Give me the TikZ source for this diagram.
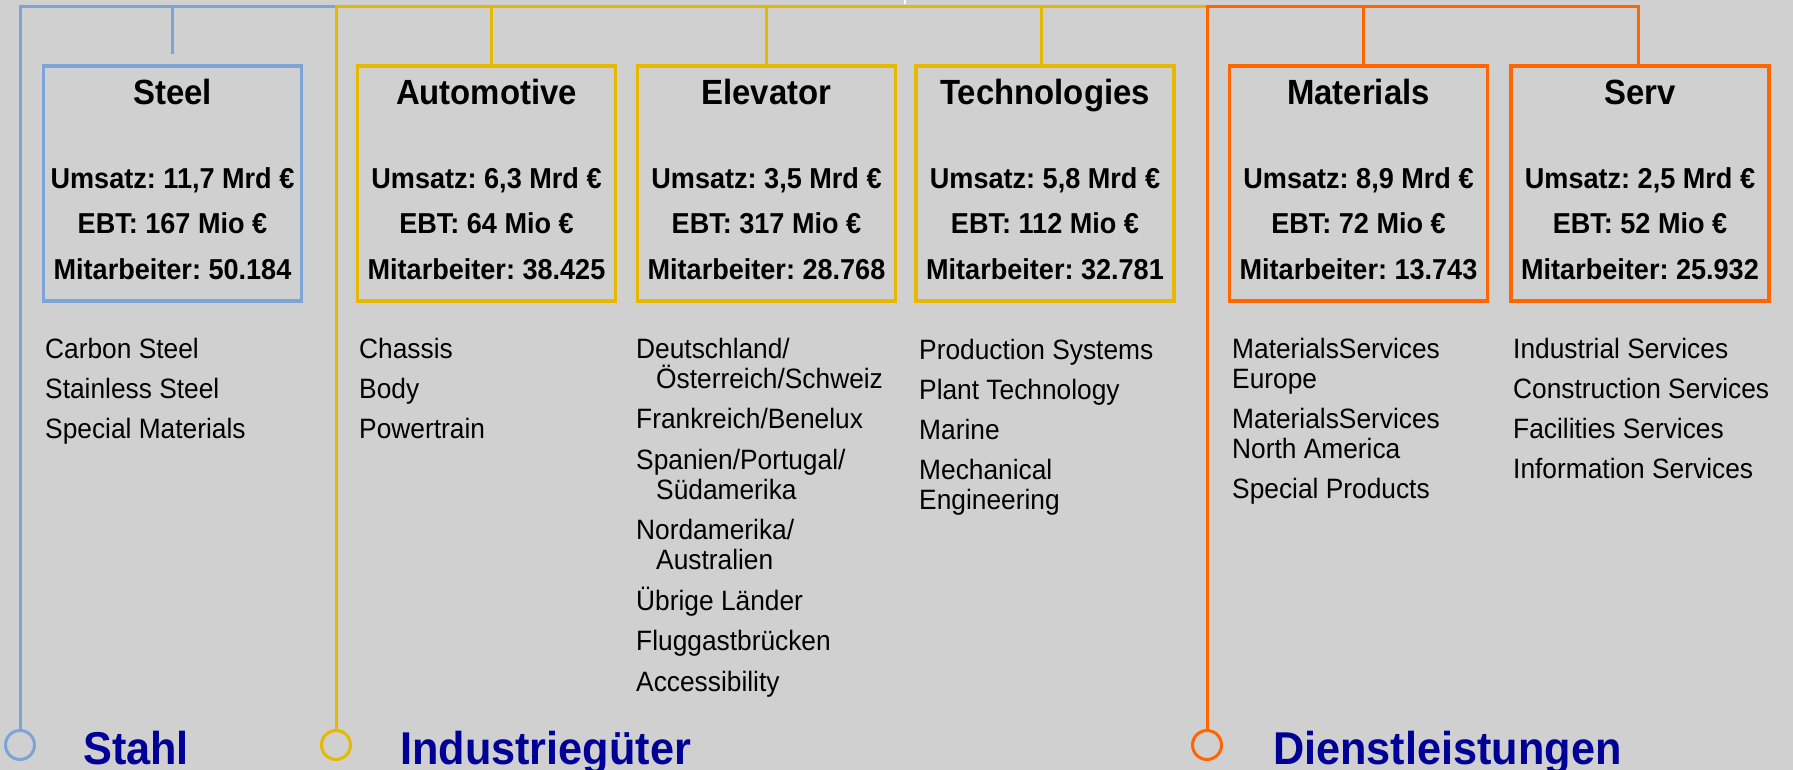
\documentclass[tikz,border=0pt]{standalone}
\usepackage{fontspec}
\setmainfont[FakeStretch=0.94]{Liberation Sans}
\usetikzlibrary{positioning,calc}
\definecolor{bgGray}{RGB}{208,208,208}
\definecolor{stahlBlue}{RGB}{125,164,214}
\definecolor{indGelb}{RGB}{230,184,0}
\definecolor{dlOrange}{RGB}{255,102,0}
\definecolor{labelBlue}{RGB}{0,0,150}

\begin{document}
\begin{tikzpicture}[x=1pt,y=-1pt,
    segbox/.style={draw=#1, line width=3.5pt, minimum width=258pt, minimum height=235pt, inner sep=0pt},
    trunk/.style={draw=#1, line width=3pt},
    ringdot/.style={circle, draw=#1, line width=3pt, minimum size=29pt, inner sep=0pt},
    boxtitle/.style={anchor=base, inner sep=0pt, font=\fontsize{35}{40}\selectfont\bfseries},
    figures/.style={anchor=base, align=center, inner sep=0pt, font=\fontsize{28.8}{45.5}\selectfont\bfseries\frenchspacing},
    sublist/.style={anchor=base west, align=left, inner sep=0pt, font=\fontsize{28}{30}\selectfont},
    grouplabel/.style={anchor=base west, inner sep=0pt, text=labelBlue, font=\fontsize{46}{50}\selectfont\bfseries}]
       \useasboundingbox[fill=bgGray] (0,0) rectangle (1793,770);
       \draw[white, line width=1.5pt] (905,0) -- (905,4);
       % the three groups
       \coordinate (stahlTop) at (20,7);
       \coordinate (indTop) at (336,7);
       \coordinate (dlTop) at (1207,7);
       \coordinate (dlEnd) at (1638,7);
       \node[ringdot=stahlBlue] (stahlDot) at (20,745) {};
       \node[ringdot=indGelb] (indDot) at (336,745) {};
       \node[ringdot=dlOrange] (dlDot) at (1207,745) {};
       \node[grouplabel] (stahl) at (83,764) {Stahl};
       \node[grouplabel] (ind) at (400,764) {Industriegüter};
       \node[grouplabel] (dl) at (1273,764) {Dienstleistungen};
       % segments
       \node[segbox=stahlBlue] (steel) at (172.5,183.5) {};
       \node[segbox=indGelb] (auto) at (486.5,183.5) {};
       \node[segbox=indGelb] (elev) at (766.5,183.5) {};
       \node[segbox=indGelb] (tech) at (1045,183.5) {};
       \node[segbox=dlOrange] (mat) at (1358.5,183.5) {};
       \node[segbox=dlOrange] (serv) at (1640,183.5) {};
       \coordinate (autoTick) at ($(auto.north)+(4.5,0)$);
       \coordinate (techTick) at ($(tech.north)+(-4,0)$);
       \coordinate (matTick) at ($(mat.north)+(5,0)$);
       \draw[trunk=stahlBlue] (stahlDot) -- (stahlTop) -- (indTop);
       \draw[trunk=stahlBlue] (steel.north |- stahlTop) -- ([yshift=10pt]steel.north);
       \draw[trunk=indGelb] (indDot) -- (indTop) -- (dlTop);
       \draw[trunk=indGelb] (autoTick |- indTop) -- (autoTick);
       \draw[trunk=indGelb] (elev.north |- indTop) -- (elev.north);
       \draw[trunk=indGelb] (techTick |- indTop) -- (techTick);
       \draw[trunk=dlOrange] (dlDot) -- (dlTop) -- (dlEnd) -- (dlEnd |- serv.north);
       \draw[trunk=dlOrange] (matTick |- dlTop) -- (matTick);
       % box texts (base = last line)
       \node[boxtitle] (steelT) at (172.5,105) {Steel};
       \node[boxtitle] (autoT) at (486.5,105) {Automotive};
       \node[boxtitle] (elevT) at (766.5,105) {Elevator};
       \node[boxtitle] (techT) at (1045,105) {Technologies};
       \node[boxtitle] (matT) at (1358.5,105) {Materials};
       \node[boxtitle] (servT) at (1640,105) {Serv};
       \node[figures] (steelF) at (172.5,279) {Umsatz: 11,7 Mrd €\\EBT: 167 Mio €\\Mitarbeiter: 50.184};
       \node[figures] (autoF) at (486.5,279) {Umsatz: 6,3 Mrd €\\EBT: 64 Mio €\\Mitarbeiter: 38.425};
       \node[figures] (elevF) at (766.5,279) {Umsatz: 3,5 Mrd €\\EBT: 317 Mio €\\Mitarbeiter: 28.768};
       \node[figures] (techF) at (1045,279) {Umsatz: 5,8 Mrd €\\EBT: 112 Mio €\\Mitarbeiter: 32.781};
       \node[figures] (matF) at (1358.5,279) {Umsatz: 8,9 Mrd €\\EBT: 72 Mio €\\Mitarbeiter: 13.743};
       \node[figures] (servF) at (1640,279) {Umsatz: 2,5 Mrd €\\EBT: 52 Mio €\\Mitarbeiter: 25.932};
       % lists below
       \node[sublist] (steelL) at (45,438) {Carbon Steel\\[10pt]Stainless Steel\\[10pt]Special Materials};
       \node[sublist] (autoL) at (359,438) {Chassis\\[10pt]Body\\[10pt]Powertrain};
       \node[sublist] (elevL) at (636,691) {Deutschland/\\\hspace*{20pt}Österreich/Schweiz\\[10.5pt]Frankreich/Benelux\\[10.5pt]Spanien/Portugal/\\\hspace*{20pt}Südamerika\\[10.5pt]Nordamerika/\\\hspace*{20pt}Australien\\[10.5pt]Übrige Länder\\[10.5pt]Fluggastbrücken\\[10.5pt]Accessibility};
       \node[sublist] (techL) at (919,509) {Production Systems\\[10pt]Plant Technology\\[10pt]Marine\\[10pt]Mechanical\\Engineering};
       \node[sublist] (matL) at (1232,498) {MaterialsServices\\Europe\\[10pt]MaterialsServices\\North America\\[10pt]Special Products};
       \node[sublist] (servL) at (1513,478) {Industrial Services\\[10pt]Construction Services\\[10pt]Facilities Services\\[10pt]Information Services};
     \end{tikzpicture}
\end{document}
